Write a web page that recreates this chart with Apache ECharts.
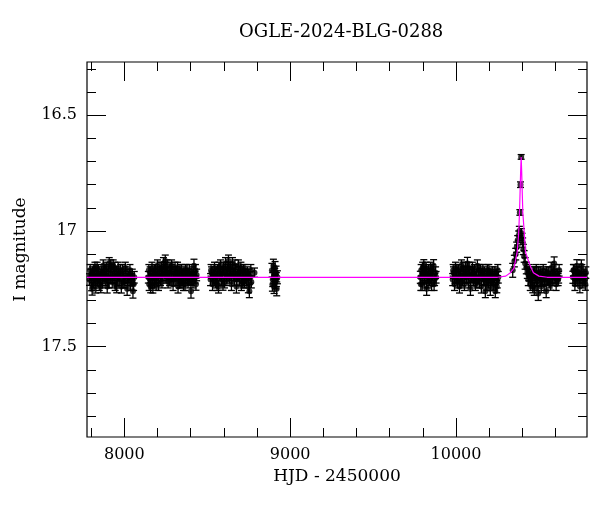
<!DOCTYPE html>
<html>
<head>
<meta charset="utf-8">
<script src="https://cdn.jsdelivr.net/npm/echarts@6/dist/echarts.min.js"></script>
<style>
  html, body { margin: 0; padding: 0; background: #fff; }
  #main { width: 600px; height: 512px; }
</style>
</head>
<body>
<div id="main"></div>
<script>
// axis ranges and tick values (HJD - 2450000, I mag)
const xRange = [7775, 10790];
const yRange = [16.27, 17.89];
const xMajor = [8000, 9000, 10000];
const xMinor = [7800, 8200, 8400, 8600, 8800, 9200, 9400, 9600, 9800, 10200, 10400, 10600];
const yMajor = [16.5, 17, 17.5];
const yMinor = [16.3, 16.4, 16.6, 16.7, 16.8, 16.9, 17.1, 17.2, 17.3, 17.4, 17.6, 17.7, 17.8];

// observing seasons: [hjd, mag, err]
const season1 = [
  [7790,17.21,.025],[7797,17.19,.025],[7803,17.23,.028],[7808,17.18,.025],[7813,17.22,.026],
  [7818,17.20,.025],[7823,17.16,.025],[7828,17.24,.028],[7833,17.19,.025],[7838,17.21,.026],
  [7843,17.17,.025],[7849,17.23,.027],[7855,17.20,.025],[7861,17.18,.025],[7867,17.22,.026],
  [7873,17.15,.025],[7879,17.19,.025],[7885,17.21,.026],[7891,17.16,.025],[7897,17.24,.028],
  [7903,17.18,.025],[7909,17.14,.025],[7915,17.20,.025],[7921,17.17,.025],[7927,17.22,.026],
  [7933,17.15,.025],[7939,17.19,.025],[7945,17.23,.027],[7951,17.18,.025],[7957,17.20,.025],
  [7963,17.16,.025],[7969,17.21,.026],[7975,17.19,.025],[7982,17.24,.028],[7989,17.17,.025],
  [7996,17.20,.025],[8003,17.22,.026],[8010,17.18,.025],[8017,17.25,.028],[8024,17.20,.025],
  [8031,17.19,.025],[8038,17.23,.027],[8045,17.21,.025],[8052,17.26,.03],[8060,17.20,.025],
  [7794,17.17,.025],[7806,17.25,.027],[7816,17.17,.025],[7826,17.21,.026],[7836,17.16,.025],
  [7846,17.20,.025],[7858,17.24,.027],[7870,17.19,.025],[7882,17.17,.025],[7894,17.20,.025],
  [7906,17.22,.026],[7918,17.15,.025],[7930,17.20,.025],[7942,17.16,.025],[7954,17.24,.027],
  [7966,17.19,.025],[7978,17.17,.025],[7992,17.22,.026],[8006,17.16,.025],[8020,17.21,.026],
  [8034,17.17,.025],[8048,17.19,.025],[8056,17.23,.027]
];
const season2 = [
  [8145,17.20,.025],[8150,17.23,.027],[8156,17.18,.025],[8161,17.21,.025],[8167,17.16,.025],
  [8172,17.24,.028],[8178,17.19,.025],[8183,17.22,.026],[8189,17.17,.025],[8195,17.20,.025],
  [8200,17.15,.025],[8206,17.23,.027],[8212,17.18,.025],[8218,17.21,.026],[8224,17.16,.025],
  [8230,17.19,.025],[8236,17.14,.025],[8242,17.17,.025],[8247,17.13,.026],[8252,17.20,.025],
  [8258,17.15,.025],[8264,17.22,.026],[8270,17.18,.025],[8276,17.16,.025],[8282,17.21,.026],
  [8288,17.17,.025],[8294,17.23,.027],[8300,17.19,.025],[8306,17.16,.025],[8312,17.21,.026],
  [8318,17.18,.025],[8324,17.24,.028],[8330,17.20,.025],[8336,17.17,.025],[8342,17.22,.026],
  [8348,17.19,.025],[8354,17.21,.026],[8360,17.18,.025],[8366,17.23,.027],[8372,17.20,.025],
  [8378,17.17,.025],[8384,17.22,.026],[8390,17.19,.025],[8396,17.21,.025],[8402,17.26,.03],
  [8408,17.18,.025],[8414,17.22,.026],[8420,17.15,.028],[8426,17.20,.025],[8432,17.23,.026],
  [8436,17.19,.025],
  [8148,17.17,.025],[8159,17.24,.027],[8170,17.20,.025],[8181,17.17,.025],[8192,17.23,.026],
  [8203,17.19,.025],[8215,17.16,.025],[8227,17.22,.026],[8239,17.19,.025],[8250,17.16,.025],
  [8261,17.18,.025],[8273,17.21,.026],[8285,17.15,.025],[8297,17.21,.026],[8309,17.18,.025],
  [8321,17.16,.025],[8333,17.22,.026],[8345,17.17,.025],[8357,17.23,.027],[8369,17.17,.025],
  [8381,17.20,.025],[8393,17.17,.025],[8405,17.21,.026],[8417,17.19,.025],[8429,17.17,.025]
];
const season3 = [
  [8520,17.21,.026],[8526,17.18,.025],[8532,17.23,.027],[8538,17.19,.025],[8544,17.16,.025],
  [8550,17.22,.026],[8556,17.20,.025],[8562,17.17,.025],[8568,17.24,.028],[8574,17.19,.025],
  [8580,17.15,.025],[8586,17.21,.026],[8592,17.18,.025],[8598,17.16,.025],[8604,17.22,.026],
  [8610,17.14,.025],[8616,17.19,.025],[8622,17.17,.025],[8628,17.13,.026],[8634,17.20,.025],
  [8640,17.16,.025],[8646,17.23,.027],[8652,17.14,.025],[8658,17.19,.025],[8664,17.21,.026],
  [8670,17.17,.025],[8676,17.24,.028],[8682,17.19,.025],[8688,17.15,.025],[8694,17.21,.026],
  [8700,17.18,.025],[8706,17.23,.027],[8712,17.20,.025],[8718,17.17,.025],[8724,17.22,.026],
  [8730,17.19,.025],[8736,17.21,.026],[8742,17.18,.025],[8748,17.24,.027],[8754,17.26,.028],
  [8760,17.20,.025],[8766,17.22,.026],[8785,17.18,.02],
  [8523,17.17,.025],[8535,17.21,.026],[8547,17.18,.025],[8559,17.23,.027],[8571,17.16,.025],
  [8583,17.19,.025],[8595,17.23,.026],[8607,17.18,.025],[8619,17.21,.026],[8631,17.16,.025],
  [8643,17.19,.025],[8655,17.17,.025],[8667,17.15,.025],[8679,17.21,.026],[8691,17.18,.025],
  [8703,17.16,.025],[8715,17.22,.026],[8727,17.17,.025],[8739,17.20,.025],[8751,17.19,.025],
  [8763,17.17,.025]
];
const season4 = [
  [8890,17.17,.03],[8895,17.21,.03],[8899,17.15,.028],[8903,17.24,.03],[8907,17.19,.028],
  [8911,17.22,.03],[8915,17.18,.028],[8919,17.25,.03],[8923,17.20,.028],[8893,17.23,.03],
  [8901,17.20,.028],[8909,17.16,.028],[8917,17.21,.03]
];
const season5 = [
  [9785,17.20,.026],[9790,17.17,.025],[9796,17.23,.027],[9801,17.19,.025],[9806,17.15,.026],
  [9812,17.22,.026],[9818,17.18,.025],[9823,17.25,.028],[9829,17.20,.025],[9835,17.17,.025],
  [9841,17.21,.026],[9847,17.16,.025],[9853,17.23,.027],[9859,17.19,.025],[9865,17.15,.026],
  [9871,17.21,.026],[9877,17.18,.025],[9788,17.23,.027],[9799,17.16,.025],[9809,17.19,.025],
  [9820,17.16,.025],[9832,17.22,.026],[9844,17.19,.025],[9856,17.17,.025],[9868,17.23,.027],
  [9880,17.20,.025]
];
const season6 = [
  [9980,17.21,.026],[9985,17.18,.025],[9991,17.23,.027],[9997,17.16,.025],[10003,17.20,.025],
  [10009,17.22,.026],[10015,17.17,.025],[10021,17.24,.028],[10027,17.19,.025],[10033,17.15,.025],
  [10039,17.21,.026],[10045,17.18,.025],[10051,17.23,.027],[10057,17.16,.025],[10063,17.20,.025],
  [10069,17.14,.026],[10075,17.22,.026],[10081,17.18,.025],[10087,17.25,.028],[10093,17.19,.025],
  [10099,17.16,.025],[10105,17.21,.026],[10111,17.17,.025],[10117,17.23,.027],[10123,17.19,.025],
  [10129,17.15,.025],[10135,17.20,.025],[10141,17.22,.026],[10147,17.17,.025],[10153,17.24,.028],
  [10159,17.19,.025],[10165,17.21,.026],[10171,17.18,.025],[10177,17.26,.028],[10183,17.20,.025],
  [10189,17.17,.025],[10195,17.22,.026],[10201,17.19,.025],[10207,17.25,.028],[10213,17.21,.025],
  [10219,17.18,.025],[10225,17.23,.026],[10231,17.20,.025],[10237,17.26,.028],[10243,17.19,.025],
  [10249,17.22,.026],[10255,17.20,.025],
  [9983,17.17,.025],[9994,17.20,.025],[10006,17.17,.025],[10018,17.20,.025],[10030,17.22,.026],
  [10042,17.16,.025],[10054,17.20,.025],[10066,17.18,.025],[10078,17.16,.025],[10090,17.21,.026],
  [10102,17.18,.025],[10114,17.20,.025],[10126,17.22,.026],[10138,17.17,.025],[10150,17.19,.025],
  [10162,17.17,.025],[10174,17.21,.026],[10186,17.23,.027],[10198,17.17,.025],[10210,17.19,.025],
  [10222,17.21,.026],[10234,17.18,.025],[10246,17.24,.027],[10252,17.17,.025]
];
const season7 = [
  [10342,17.17,.03],[10352,17.13,.025],[10360,17.10,.025],[10366,17.07,.022],[10372,17.04,.02],
  [10378,17.02,.02],[10382,17.00,.02],[10385,16.92,.012],[10389,16.80,.012],[10393,16.68,.01],
  [10395,17.01,.02],[10398,17.03,.02],[10402,17.05,.02],[10406,17.08,.022],[10411,17.11,.025],
  [10417,17.14,.025],[10424,17.16,.025],[10430,17.18,.025],
  [10436,17.21,.026],[10442,17.17,.025],[10448,17.23,.027],[10454,17.19,.025],[10460,17.22,.026],
  [10466,17.18,.025],[10472,17.25,.028],[10478,17.20,.025],[10484,17.17,.025],[10490,17.23,.027],
  [10496,17.27,.03],[10502,17.20,.025],[10508,17.18,.025],[10514,17.24,.027],[10520,17.21,.026],
  [10526,17.17,.025],[10532,17.23,.027],[10538,17.19,.025],[10544,17.26,.028],[10550,17.21,.026],
  [10556,17.18,.025],[10562,17.22,.026],[10568,17.20,.025],[10574,17.16,.025],[10580,17.21,.026],
  [10586,17.18,.025],[10592,17.14,.028],[10598,17.20,.025],[10604,17.23,.027],[10610,17.19,.025],
  [10616,17.21,.026],[10622,17.17,.025],
  [10439,17.19,.025],[10451,17.21,.026],[10463,17.24,.027],[10475,17.18,.025],[10487,17.21,.026],
  [10499,17.18,.025],[10511,17.21,.026],[10523,17.19,.025],[10535,17.21,.026],[10547,17.18,.025],
  [10559,17.20,.025],[10571,17.23,.026],[10583,17.20,.025],[10595,17.17,.025],[10607,17.21,.026],
  [10619,17.20,.025]
];
const season8 = [
  [10705,17.20,.026],[10711,17.17,.025],[10717,17.23,.027],[10723,17.19,.025],[10729,17.15,.026],
  [10735,17.21,.026],[10741,17.18,.025],[10747,17.24,.027],[10753,17.20,.025],[10759,17.17,.025],
  [10765,17.22,.026],[10771,17.19,.025],[10777,17.21,.026],[10783,17.18,.025],[10708,17.17,.025],
  [10720,17.21,.026],[10732,17.18,.025],[10744,17.20,.025],[10756,17.15,.025],[10768,17.20,.025],
  [10780,17.23,.026]
];

// model curve: [hjd, mag]
const model = [
  [7775,17.2],[10250,17.2],[10300,17.195],[10328,17.18],[10350,17.16],[10358,17.13],
  [10369,17.09],[10378,17.01],[10383,16.92],[10387,16.82],[10390,16.74],[10393,16.68],
  [10396,16.74],[10399,16.82],[10403,16.92],[10412,17.01],[10419,17.09],[10437,17.13],
  [10450,17.155],[10467,17.18],[10500,17.195],[10550,17.2],[10790,17.2]
];

const points = [].concat(season1, season2, season3, season4, season5, season6, season7, season8);

const serif = "DejaVu Serif";
const tickStyle = { color: "#000", width: 1 };

function xAxis(position, values, len, labels) {
  return {
    type: "value",
    position,
    min: xRange[0],
    max: xRange[1],
    axisLine: { show: false },
    splitLine: { show: false },
    axisTick: { show: true, inside: true, length: len, customValues: values, lineStyle: tickStyle },
    axisLabel: {
      show: labels,
      customValues: values,
      formatter: (v) => String(v),
      margin: 10,
      color: "#000",
      fontFamily: serif,
      fontSize: 16,
    },
  };
}

function yAxis(position, values, len, labels) {
  return {
    type: "value",
    position,
    inverse: true,
    min: yRange[0],
    max: yRange[1],
    axisLine: { show: false },
    splitLine: { show: false },
    axisTick: { show: true, inside: true, length: len, customValues: values, lineStyle: tickStyle },
    axisLabel: {
      show: labels,
      customValues: values,
      formatter: (v) => String(v),
      margin: 10,
      color: "#000",
      fontFamily: serif,
      fontSize: 16,
    },
  };
}

const xAxes = [
  xAxis("bottom", xMajor, 19, true),
  xAxis("bottom", xMinor, 9, false),
  xAxis("top", xMajor, 19, false),
  xAxis("top", xMinor, 9, false),
];
xAxes[0].name = "HJD - 2450000";
xAxes[0].nameLocation = "middle";
xAxes[0].nameGap = 30;
xAxes[0].nameTextStyle = { color: "#000", fontFamily: serif, fontSize: 17 };

const yAxes = [
  yAxis("left", yMajor, 19, true),
  yAxis("left", yMinor, 9, false),
  yAxis("right", yMajor, 19, false),
  yAxis("right", yMinor, 9, false),
];
yAxes[0].name = "I magnitude";
yAxes[0].nameLocation = "middle";
yAxes[0].nameGap = 58;
yAxes[0].nameTextStyle = { color: "#000", fontFamily: serif, fontSize: 17 };

const chart = echarts.init(document.getElementById("main"), null, { renderer: "canvas" });
chart.setOption({
  animation: false,
  backgroundColor: "#fff",
  title: {
    text: "OGLE-2024-BLG-0288",
    left: 239,
    top: 23,
    padding: 0,
    textStyle: { color: "#000", fontFamily: serif, fontSize: 18, fontWeight: "normal" },
  },
  grid: {
    left: 87,
    right: 13,
    top: 62,
    bottom: 75,
    show: true,
    borderColor: "#000",
    borderWidth: 1.2,
    backgroundColor: "transparent",
  },
  xAxis: xAxes,
  yAxis: yAxes,
  series: [
    {
      name: "errors",
      type: "custom",
      xAxisIndex: 0,
      yAxisIndex: 0,
      encode: { x: 0, y: 1 },
      data: points,
      renderItem(params, api) {
        const x = api.value(0);
        const m = api.value(1);
        const e = api.value(2);
        const top = api.coord([x, m - e]);
        const bot = api.coord([x, m + e]);
        const style = { stroke: "#000", lineWidth: 1.3 };
        return {
          type: "group",
          children: [
            { type: "line", shape: { x1: top[0], y1: top[1], x2: bot[0], y2: bot[1] }, style },
            { type: "line", shape: { x1: top[0] - 3.5, y1: top[1], x2: top[0] + 3.5, y2: top[1] }, style },
            { type: "line", shape: { x1: bot[0] - 3.5, y1: bot[1], x2: bot[0] + 3.5, y2: bot[1] }, style },
          ],
        };
      },
      z: 2,
    },
    {
      name: "data",
      type: "scatter",
      xAxisIndex: 0,
      yAxisIndex: 0,
      data: points.map((p) => [p[0], p[1]]),
      symbol: "circle",
      symbolSize: 6,
      itemStyle: { color: "#000" },
      z: 3,
    },
    {
      name: "model",
      type: "line",
      xAxisIndex: 0,
      yAxisIndex: 0,
      data: model,
      showSymbol: false,
      lineStyle: { color: "#ff00ff", width: 1.2 },
      z: 4,
    },
  ],
});
</script>
</body>
</html>
